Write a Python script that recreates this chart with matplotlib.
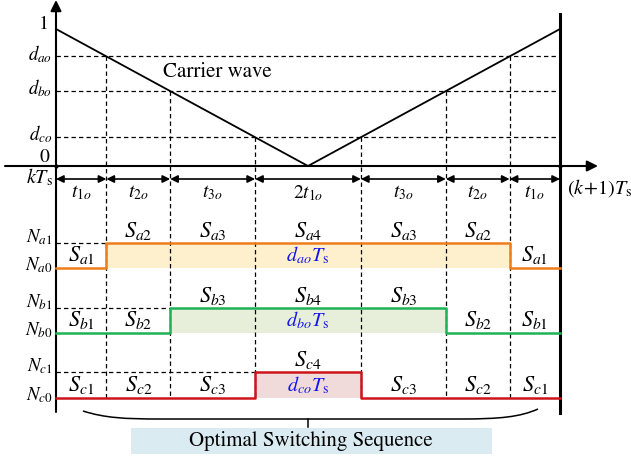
import numpy as np
import matplotlib.pyplot as plt
from matplotlib.patches import Rectangle, PathPatch
from matplotlib.path import Path

plt.rcParams['font.family'] = ['STIXGeneral', 'Liberation Serif', 'DejaVu Serif']
plt.rcParams['mathtext.fontset'] = 'stix'

# period and duty cycles of the three phases (carrier units)
Ts = 1.0
phases = ['a', 'b', 'c']
duty = [0.80, 0.547, 0.21]
duty_names = ['$d_{ao}$', '$d_{bo}$', '$d_{co}$']
level_hi = [-0.562, -1.036, -1.504]
level_lo = [-0.745, -1.219, -1.693]
seg_names = ['$t_{1o}$', '$t_{2o}$', '$t_{3o}$', '$2t_{1o}$', '$t_{3o}$', '$t_{2o}$', '$t_{1o}$']
seg_index = [1, 2, 3, 4, 3, 2, 1]
colors = ['#ee7d1c', '#1fb257', '#cc1419']
fills = ['#fef0cd', '#e7efdb', '#f1dbda']

carrier_t = [0.0, 0.5, 1.0]
carrier_v = [1.0, 0.0, 1.0]

# switching instants where the carrier crosses each duty level
t_on = [(1 - d) / 2 * Ts for d in duty]
t_off = [Ts - t for t in t_on]
bounds = [0.0] + t_on + t_off[::-1] + [Ts]


# helpers to place decorations in picture pixels
def X(px):
    return (px - 56) / 504.0


def Y(py):
    return (166 - py) / 137.0


fig = plt.figure(figsize=(6.31, 4.57), dpi=100)
ax = fig.add_axes([0, 0, 1, 1])
ax.set_xlim(X(0), X(631))
ax.set_ylim(Y(457), Y(0))
ax.axis('off')

dash = (0, (3.5, 2.5))
fs = 13.5

# axes
ax.annotate('', xy=(0, Y(0)), xytext=(0, Y(412)),
            arrowprops=dict(arrowstyle='-|>', lw=1.5, color='k', mutation_scale=16, shrinkA=0, shrinkB=0))
ax.annotate('', xy=(X(598), 0), xytext=(X(5), 0),
            arrowprops=dict(arrowstyle='-|>', lw=1.5, color='k', mutation_scale=16, shrinkA=0, shrinkB=0))
ax.plot([Ts, Ts], [Y(14), Y(413)], color='k', lw=2.2)
ax.plot([0, Ts], [0, 0], 'k.', ms=4)

# carrier
ax.plot(carrier_t, carrier_v, color='k', lw=1.3)
ax.text(X(163), Y(72), 'Carrier wave', fontsize=15, ha='left', va='center')

# duty levels and switching instants
for i, d in enumerate(duty):
    ax.plot([0, Ts], [d, d], color='k', lw=0.9, ls=dash)
    for t in (t_on[i], t_off[i]):
        ax.plot([t, t], [d, level_lo[2]], color='k', lw=0.9, ls=dash)
    ax.text(X(52), d + 0.02, duty_names[i], fontsize=fs, ha='right', va='center')
ax.text(X(49), Y(24), '1', fontsize=fs + 1, ha='right', va='center')
ax.text(X(49), Y(157), '0', fontsize=fs + 0.5, ha='right', va='center')

# time interval arrows
for k in range(len(seg_names)):
    ax.annotate('', xy=(bounds[k + 1], Y(179)), xytext=(bounds[k], Y(179)),
                arrowprops=dict(arrowstyle='<|-|>', lw=1.2, color='k', mutation_scale=11, shrinkA=0, shrinkB=0))
    ax.text((bounds[k] + bounds[k + 1]) / 2, Y(193), seg_names[k], fontsize=fs + 0.5, ha='center', va='center')
ax.text(X(53), Y(177), r'$kT_{\mathrm{s}}$', fontsize=fs + 1, ha='right', va='center')
ax.text(X(567), Y(188), r'$(k\!+\!1)T_{\mathrm{s}}$', fontsize=fs + 1, ha='left', va='center')

# switching states of each phase
for i, p in enumerate(phases):
    hi, lo = level_hi[i], level_lo[i]
    ax.add_patch(Rectangle((t_on[i], lo), t_off[i] - t_on[i], hi - lo, color=fills[i], lw=0, zorder=0))
    ax.plot([0, t_on[i]], [hi, hi], color='k', lw=0.9, ls=dash)
    ax.plot([0, t_on[i], t_on[i], t_off[i], t_off[i], Ts], [lo, lo, hi, hi, lo, lo],
            color=colors[i], lw=1.8, zorder=3)
    for k in range(len(seg_index)):
        xc = (bounds[k] + bounds[k + 1]) / 2
        high = t_on[i] < xc < t_off[i]
        y = hi + 0.09 if high else lo + 0.095
        ax.text(xc, y, '$S_{%s%d}$' % (p, seg_index[k]), fontsize=16, ha='center', va='center')
    ax.text(Ts / 2, (hi + lo) / 2, duty_names[i] + r'$T_{\mathrm{s}}$', fontsize=fs + 1,
            color='#1515ee', ha='center', va='center')
    ax.text(X(53), hi + 0.04, '$N_{%s1}$' % p, fontsize=fs, ha='right', va='center')
    ax.text(X(53), lo + 0.02, '$N_{%s0}$' % p, fontsize=fs, ha='right', va='center')

# brace and caption
verts = [(X(83), Y(411)), (X(105), Y(418)), (X(125), Y(419)), (X(160), Y(419)),
         (X(460), Y(419)),
         (X(500), Y(419)), (X(520), Y(417)), (X(538), Y(409))]
codes = [Path.MOVETO, Path.CURVE4, Path.CURVE4, Path.CURVE4, Path.LINETO,
         Path.CURVE4, Path.CURVE4, Path.CURVE4]
ax.add_patch(PathPatch(Path(verts, codes), fc='none', ec='k', lw=1.1))
ax.plot([Ts / 2, Ts / 2], [Y(419), Y(427)], color='k', lw=1.1)
ax.add_patch(Rectangle((X(131), Y(454)), X(492) - X(131), Y(428) - Y(454), color='#daebf2', lw=0))
ax.text(X(311), Y(441), 'Optimal Switching Sequence', fontsize=15, ha='center', va='center')

fig.savefig('out.png', dpi=100)
